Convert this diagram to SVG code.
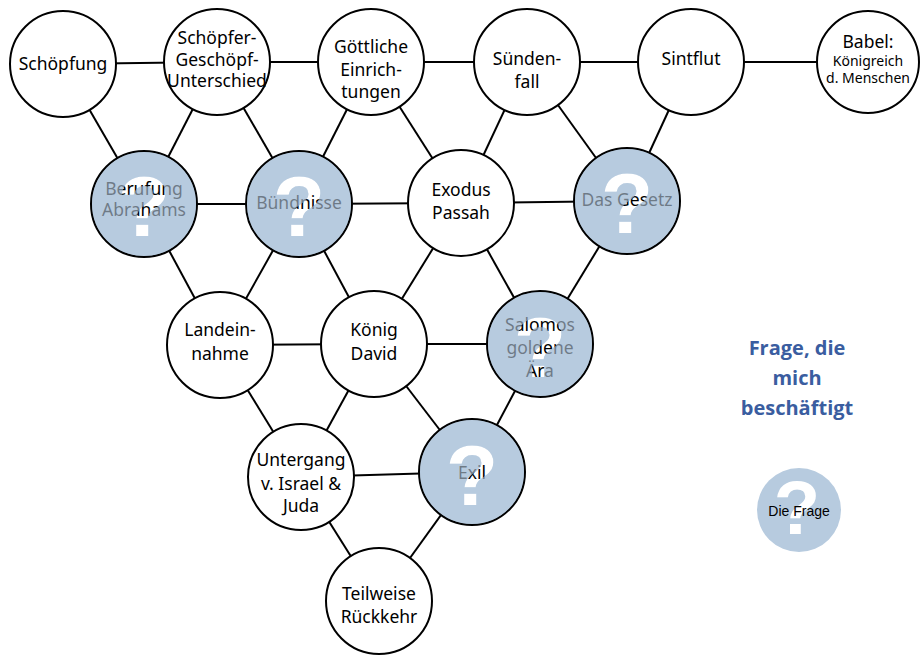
<svg xmlns="http://www.w3.org/2000/svg" width="921" height="655" viewBox="0 0 921 655">
<style>
.n{fill:#fff;stroke:#000;stroke-width:2}
.q{fill:#b7cbdf;stroke:#000;stroke-width:2}
.ov{fill:#b7cbdf;fill-opacity:0.6}
.e line{stroke:#000;stroke-width:2}
.t{font-family:"Noto Sans",Lato,sans-serif;font-size:17.5px;fill:#000;text-anchor:middle}
.s{font-size:14px}
.qm{font-family:"Liberation Sans",Arial,sans-serif;font-weight:bold;font-size:86px;text-anchor:middle}
.w{fill:#fff}
.leg{font-family:"Open Sans","Noto Sans",sans-serif;font-weight:bold;font-size:20px;fill:#3a5da0;text-anchor:middle}
</style>
<defs>
<mask id="m1" maskUnits="userSpaceOnUse" x="0" y="0" width="921" height="655"><rect width="921" height="655" fill="#fff"/><use href="#q1" fill="#000"/></mask>
<mask id="m2" maskUnits="userSpaceOnUse" x="0" y="0" width="921" height="655"><rect width="921" height="655" fill="#fff"/><use href="#q2" fill="#000"/></mask>
<mask id="m3" maskUnits="userSpaceOnUse" x="0" y="0" width="921" height="655"><rect width="921" height="655" fill="#fff"/><use href="#q3" fill="#000"/></mask>
<mask id="m4" maskUnits="userSpaceOnUse" x="0" y="0" width="921" height="655"><rect width="921" height="655" fill="#fff"/><use href="#q4" fill="#000"/></mask>
<mask id="m5" maskUnits="userSpaceOnUse" x="0" y="0" width="921" height="655"><rect width="921" height="655" fill="#fff"/><use href="#q5" fill="#000"/></mask>
</defs>
<g class="e" id="connectors">
<line x1="63" y1="64" x2="217" y2="62"/>
<line x1="217" y1="62" x2="371" y2="62"/>
<line x1="371" y1="62" x2="527" y2="62"/>
<line x1="527" y1="62" x2="691" y2="62"/>
<line x1="691" y1="62" x2="868" y2="62"/>
<line x1="63" y1="64" x2="144" y2="204"/>
<line x1="217" y1="62" x2="144" y2="204"/>
<line x1="217" y1="62" x2="299" y2="204"/>
<line x1="371" y1="62" x2="299" y2="204"/>
<line x1="371" y1="62" x2="461" y2="203"/>
<line x1="527" y1="62" x2="461" y2="203"/>
<line x1="527" y1="62" x2="627" y2="201"/>
<line x1="691" y1="62" x2="627" y2="201"/>
<line x1="144" y1="204" x2="299" y2="204"/>
<line x1="299" y1="204" x2="461" y2="203"/>
<line x1="461" y1="203" x2="627" y2="201"/>
<line x1="144" y1="204" x2="220" y2="345"/>
<line x1="299" y1="204" x2="220" y2="345"/>
<line x1="299" y1="204" x2="374" y2="344"/>
<line x1="461" y1="203" x2="374" y2="344"/>
<line x1="461" y1="203" x2="540" y2="344"/>
<line x1="627" y1="201" x2="540" y2="344"/>
<line x1="220" y1="345" x2="374" y2="344"/>
<line x1="374" y1="344" x2="540" y2="344"/>
<line x1="220" y1="345" x2="301" y2="477"/>
<line x1="374" y1="344" x2="301" y2="477"/>
<line x1="374" y1="344" x2="472" y2="472"/>
<line x1="540" y1="344" x2="472" y2="472"/>
<line x1="301" y1="477" x2="472" y2="472"/>
<line x1="301" y1="477" x2="379" y2="601"/>
<line x1="472" y1="472" x2="379" y2="601"/>
</g>
<g id="schoepfung"><circle class="n" cx="63" cy="64" r="53"/><text class="t" x="63" y="70">Schöpfung</text></g>
<g id="schoepfer"><circle class="n" cx="217" cy="62" r="53"/><text class="t" x="217" y="44">Schöpfer-</text><text class="t" x="217" y="66">Geschöpf-</text><text class="t" x="217" y="87">Unterschied</text></g>
<g id="goettliche"><circle class="n" cx="371" cy="62" r="53"/><text class="t" x="371" y="53">Göttliche</text><text class="t" x="371" y="76">Einrich-</text><text class="t" x="371" y="98">tungen</text></g>
<g id="suendenfall"><circle class="n" cx="527" cy="62" r="53"/><text class="t" x="527" y="65">Sünden-</text><text class="t" x="527" y="88">fall</text></g>
<g id="sintflut"><circle class="n" cx="691" cy="62" r="53"/><text class="t" x="691" y="65">Sintflut</text></g>
<g id="babel"><circle class="n" cx="868" cy="62" r="51"/><text class="t" x="868" y="48">Babel:</text><text class="t s" x="868" y="66">Königreich</text><text class="t s" x="868" y="83">d. Menschen</text></g>

<g id="berufung"><circle class="q" cx="144" cy="204" r="53"/><g class="w"><text id="q1" class="qm" x="144" y="236">?</text></g>
<text class="t" x="144" y="195">Berufung</text><text class="t" x="144" y="216">Abrahams</text>
<circle class="ov" cx="144" cy="204" r="52" mask="url(#m1)"/></g>
<g id="buendnisse"><circle class="q" cx="299" cy="204" r="53"/><g class="w"><text id="q2" class="qm" x="299" y="236">?</text></g>
<text class="t" x="299" y="209">Bündnisse</text>
<circle class="ov" cx="299" cy="204" r="52" mask="url(#m2)"/></g>
<g id="exodus"><circle class="n" cx="461" cy="203" r="53"/><text class="t" x="461" y="196">Exodus</text><text class="t" x="461" y="219">Passah</text></g>
<g id="gesetz"><circle class="q" cx="627" cy="201" r="53"/><g class="w"><text id="q3" class="qm" x="627" y="233">?</text></g>
<text class="t" x="627" y="206">Das Gesetz</text>
<circle class="ov" cx="627" cy="201" r="52" mask="url(#m3)"/></g>

<g id="landeinnahme"><circle class="n" cx="220" cy="345" r="53"/><text class="t" x="220" y="336">Landein-</text><text class="t" x="220" y="360">nahme</text></g>
<g id="koenig"><circle class="n" cx="374" cy="344" r="53"/><text class="t" x="374" y="336">König</text><text class="t" x="374" y="360">David</text></g>
<g id="salomos"><circle class="q" cx="540" cy="344" r="53"/><g class="w"><text id="q4" class="qm" x="540" y="377">?</text></g>
<text class="t" x="540" y="331">Salomos</text><text class="t" x="540" y="354">goldene</text><text class="t" x="540" y="377">Ära</text>
<circle class="ov" cx="540" cy="344" r="52" mask="url(#m4)"/></g>

<g id="untergang"><circle class="n" cx="301" cy="477" r="53"/><text class="t" x="301" y="466">Untergang</text><text class="t" x="301" y="490">v. Israel &amp;</text><text class="t" x="301" y="512">Juda</text></g>
<g id="exil"><circle class="q" cx="472" cy="472" r="53"/><g class="w"><text id="q5" class="qm" x="472" y="505">?</text></g>
<text class="t" x="472" y="479">Exil</text>
<circle class="ov" cx="472" cy="472" r="52" mask="url(#m5)"/></g>
<g id="rueckkehr"><circle class="n" cx="379" cy="601" r="53"/><text class="t" x="379" y="600">Teilweise</text><text class="t" x="379" y="623">Rückkehr</text></g>

<g id="legende">
<text class="leg" x="797" y="355">Frage, die</text>
<text class="leg" x="797" y="385">mich</text>
<text class="leg" x="797" y="415">beschäftigt</text>
<circle cx="799" cy="510" r="42" fill="#b7cbdf"/>
<text class="qm w" x="797" y="534" style="font-size:76px">?</text>
<text x="799" y="516" style="font-family:'Liberation Sans',Arial,sans-serif;font-size:14px;fill:#000;text-anchor:middle">Die Frage</text>
</g>
</svg>
